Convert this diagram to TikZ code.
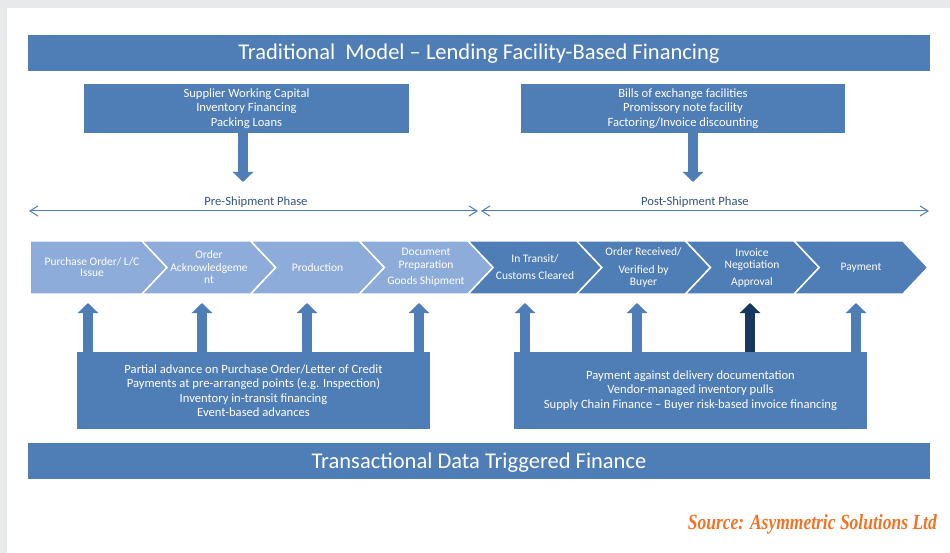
\documentclass[tikz,border=0pt]{standalone}
\usepackage{fontspec}
\setmainfont{Carlito}
\newfontfamily\srcfont{Liberation Serif}
\usetikzlibrary{arrows.meta}
\definecolor{bggray}{RGB}{232,233,235}
\definecolor{mainblue}{RGB}{79,125,181}
\definecolor{lightblue}{RGB}{142,172,217}
\definecolor{navy}{RGB}{23,55,94}
\definecolor{phasetext}{RGB}{55,84,125}
\definecolor{srcorange}{RGB}{242,115,38}
\tikzset{
  banner/.style={fill=mainblue, text=white, inner sep=0pt, minimum width=902pt, minimum height=36pt, font=\fontsize{22.5}{26}\selectfont},
  bannertext/.style={text=white, inner sep=0pt, font=\fontsize{22.5}{26}\selectfont, anchor=base},
  bluebox/.style={fill=mainblue, text=white, inner sep=0pt, align=center, font=\fontsize{12.6}{14.5}\selectfont},
  chevtext/.style={text=white, inner sep=0pt, align=center, font=\fontsize{11.5}{12.5}\selectfont},
  chevlight/.style={fill=lightblue, draw=white, line width=1.5pt, line join=miter},
  chevdark/.style={fill=mainblue, draw=white, line width=1.5pt, line join=miter},
  downarrow/.style={draw=mainblue, line width=10pt, -{Triangle[length=10pt,width=20pt]}},
  uparrow/.style={draw=mainblue, line width=10pt, -{Triangle[length=10pt,width=20pt]}},
  phaseline/.style={draw=mainblue, line width=1pt, {Straight Barb[length=8pt,width=10pt]}-{Straight Barb[length=8pt,width=10pt]}},
  phaselabel/.style={text=phasetext, inner sep=0pt, font=\fontsize{12.6}{14}\selectfont},
}
\begin{document}
\begin{tikzpicture}[x=1pt,y=-1pt]
% background
\path[fill=bggray] (0,0) rectangle (950,553);
\fill[white] (7,8) rectangle (950,553);

% banners
\node[banner] (topban) at (479,53) {};
\node[bannertext] (toptxt) at (479,60) {Traditional\ \ Model -- Lending Facility-Based Financing};
\node[banner] (botban) at (479,461) {};
\node[bannertext] (bottxt) at (479,468) {Transactional Data Triggered Finance};

% top boxes
\node[bluebox, minimum width=325pt, minimum height=49pt] (tl) at (246.5,108.5)
  {Supplier Working Capital\\Inventory Financing\\Packing Loans};
\node[bluebox, minimum width=324pt, minimum height=49pt] (tr) at (683,108.5)
  {Bills of exchange facilities\\Promissory note facility\\Factoring/Invoice discounting};

\coordinate (tipL) at (243,182);
\coordinate (tipR) at (693,182);
\draw[downarrow] (tl.south -| tipL) -- (tipL);
\draw[downarrow] (tr.south -| tipR) -- (tipR);

% phase lines
\coordinate (preA) at (29,211);
\coordinate (preB) at (478,211);
\coordinate (postA) at (481,211);
\coordinate (postB) at (929,211);
\draw[phaseline] (preA) -- (preB);
\draw[phaseline] (postA) -- (postB);
\node[phaselabel] (prelab) at (256,202.5) {Pre-Shipment Phase};
\node[phaselabel] (postlab) at (695,202.5) {Post-Shipment Phase};

% chevrons
\def\ct{241}\def\cb{294}\def\cm{267.5}\def\cd{25}
\path[chevlight] (30,\ct) -- (142,\ct) -- (167,\cm) -- (142,\cb) -- (30,\cb) -- cycle;
\foreach \L/\R/\st in {142/250.7/chevlight, 250.7/359.4/chevlight, 359.4/468.1/chevlight,
  468.1/576.8/chevdark, 576.8/685.5/chevdark, 685.5/794.2/chevdark, 794.2/902.9/chevdark}{
  \path[\st] (\L,\ct) -- (\R,\ct) -- (\R+\cd,\cm) -- (\R,\cb) -- (\L,\cb) -- (\L+\cd,\cm) -- cycle;
}
\node[chevtext] (c1) at (92,267.5) {Purchase Order/ L/C\\[-1.5pt]Issue};
\node[chevtext] (c2) at (209,267.5) {Order\\Acknowledgeme\\nt};
\node[chevtext] (c3) at (317.5,267.5) {Production};
\node[chevtext] (c4) at (426,267.5) {Document\\Preparation\\[4pt]Goods Shipment};
\node[chevtext] (c5) at (535,267.5) {In Transit/\\[4.5pt]Customs Cleared};
\node[chevtext] (c6) at (643.5,267.5) {Order Received/\\[5pt]Verified by\\Buyer};
\node[chevtext] (c7) at (752,267.5) {Invoice\\Negotiation\\[4pt]Approval};
\node[chevtext] (c8) at (861,267.5) {Payment};

% bottom boxes
\node[bluebox, minimum width=353pt, minimum height=77pt] (bl) at (253.5,390.5)
  {Partial advance on Purchase Order/Letter of Credit\\Payments at pre-arranged points (e.g. Inspection)\\Inventory in-transit financing\\Event-based advances};
\node[bluebox, minimum width=353pt, minimum height=77pt] (br) at (690.5,390.5)
  {Payment against delivery documentation\\Vendor-managed inventory pulls\\Supply Chain Finance -- Buyer risk-based invoice financing};

% up arrows
\coordinate (u1) at (88,303);
\coordinate (u2) at (202,303);
\coordinate (u3) at (307,303);
\coordinate (u4) at (419,303);
\coordinate (u5) at (525,303);
\coordinate (u6) at (637,303);
\coordinate (u7) at (750,303);
\coordinate (u8) at (856,303);
\foreach \u in {u1,u2,u3,u4}{\draw[uparrow] (bl.north -| \u) -- (\u);}
\foreach \u in {u5,u6,u8}{\draw[uparrow] (br.north -| \u) -- (\u);}
\draw[uparrow, draw=navy] (br.north -| u7) -- (u7);

% source
\node[anchor=east, inner sep=0pt, text=srcorange] (src) at (937,524)
  {\resizebox{249pt}{15pt}{\srcfont\bfseries\itshape Source: Asymmetric Solutions Ltd}};
\end{tikzpicture}
\end{document}
